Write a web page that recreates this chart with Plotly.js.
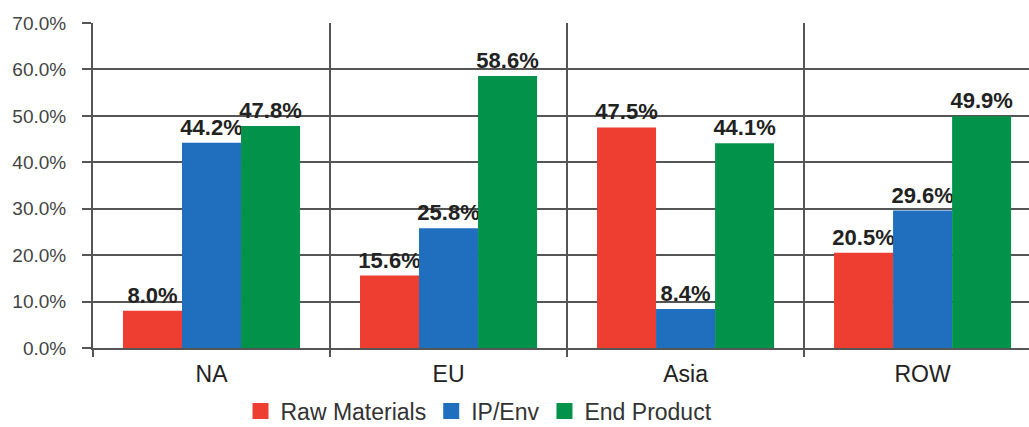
<!DOCTYPE html>
<html>
<head>
<meta charset="utf-8">
<script src="https://cdn.plot.ly/plotly-3.0.1.min.js"></script>
<style>html,body{margin:0;padding:0;background:#fff;}#chart{width:1029px;height:427px;}</style>
</head>
<body>
<div id="chart"></div>
<script>
const regions = ["NA", "EU", "Asia", "ROW"];
const seriesNames = ["Raw Materials", "IP/Env", "End Product"];
const rawMaterials = [8.0, 15.6, 47.5, 20.5];
const ipEnv = [44.2, 25.8, 8.4, 29.6];
const endProduct = [47.8, 58.6, 44.1, 49.9];
const yTickVals = [0, 10, 20, 30, 40, 50, 60, 70];
const yTickText = ["0.0%", "10.0%", "20.0%", "30.0%", "40.0%", "50.0%", "60.0%", "70.0%"];

const colors = ["#EE3E32", "#1F6FBE", "#03924A"];
const FONT = "'Liberation Sans', Arial, sans-serif";
const allSeries = [rawMaterials, ipEnv, endProduct];

const traces = allSeries.map((vals, i) => ({
  type: "bar",
  name: seriesNames[i],
  x: regions,
  y: vals,
  showlegend: false,
  marker: { color: colors[i], line: { width: 0 } },
  text: vals.map(v => v.toFixed(1) + "%"),
  textposition: "outside",
  constraintext: "none",
  cliponaxis: false,
  textfont: { family: FONT, size: 22, color: "#222", weight: "bold" },
  hoverinfo: "skip"
}));

// legend entries with larger square swatches
seriesNames.forEach((name, i) => {
  traces.push({
    type: "scatter",
    mode: "markers",
    name: name,
    x: [null],
    y: [null],
    marker: { symbol: "square", size: 16, color: colors[i] },
    showlegend: true,
    hoverinfo: "skip"
  });
});

const layout = {
  width: 1029,
  height: 427,
  margin: { l: 93, r: 0, t: 23, b: 79, autoexpand: false },
  paper_bgcolor: "#fff",
  plot_bgcolor: "#fff",
  barmode: "group",
  bargap: 0.253,
  bargroupgap: 0,
  showlegend: true,
  legend: {
    orientation: "h",
    xref: "container", yref: "container",
    x: 0.4655, xanchor: "center",
    y: 0.0375, yanchor: "middle",
    font: { family: FONT, size: 23, color: "#333" },
    itemwidth: 30,
    traceorder: "normal"
  },
  xaxis: {
    type: "category",
    range: [-0.5, 3.449],
    tickson: "boundaries",
    ticks: "outside",
    ticklen: 7,
    tickwidth: 2,
    tickcolor: "#555",
    showgrid: true,
    gridcolor: "#555",
    gridwidth: 2,
    showline: true,
    linecolor: "#555",
    linewidth: 2,
    ticklabelstandoff: 4,
    tickfont: { family: FONT, size: 23, color: "#222" },
    fixedrange: true
  },
  yaxis: {
    range: [0, 70],
    tickvals: yTickVals,
    ticktext: yTickText,
    ticks: "outside",
    ticklen: 9,
    tickwidth: 2,
    tickcolor: "#555",
    showgrid: true,
    gridcolor: "#555",
    gridwidth: 2,
    showline: true,
    linecolor: "#555",
    linewidth: 2,
    zeroline: false,
    ticklabelstandoff: 12,
    tickfont: { family: FONT, size: 19, color: "#444" },
    fixedrange: true
  }
};

Plotly.newPlot("chart", traces, layout, { displayModeBar: false, staticPlot: true });
</script>
</body>
</html>
